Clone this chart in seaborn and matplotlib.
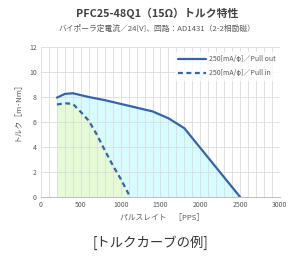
import matplotlib
matplotlib.use("Agg")
import matplotlib.pyplot as plt
import seaborn as sns
import pandas as pd

sns.set_theme(style="white")
plt.rcParams['font.family'] = ['Noto Sans CJK JP', 'DejaVu Sans']

# Data
pull_out_pps = [200, 300, 400, 600, 800, 1000, 1200, 1400, 1600, 1800, 2500]
pull_out_torque = [7.95, 8.25, 8.3, 8.0, 7.75, 7.45, 7.15, 6.85, 6.3, 5.5, 0.0]
pull_in_pps = [200, 300, 400, 500, 600, 700, 800, 900, 1000, 1120]
pull_in_torque = [7.4, 7.5, 7.45, 6.8, 6.1, 5.0, 3.75, 2.55, 1.45, 0.0]

label_out = "250[mA/ϕ]／Pull out"
label_in = "250[mA/ϕ]／Pull in"

title = "PFC25-48Q1（15Ω）トルク特性"
subtitle = "バイポーラ定電流／24[V]、回路：AD1431（2-2相励磁）"
xlabel = "パルスレイト　［PPS］"
ylabel = "トルク［m･Nm］"
caption = "[トルクカーブの例]"

line_color = "#3564a9"
fill_out = "#d6fcff"
fill_in = "#e4fbd6"
grid_color = "#dcdcdc"
text_gray = "#595959"

df_out = pd.DataFrame({"pps": pull_out_pps, "torque": pull_out_torque, "series": label_out})
df_in = pd.DataFrame({"pps": pull_in_pps, "torque": pull_in_torque, "series": label_in})

fig = plt.figure(figsize=(3.02, 2.62), dpi=100)
ax = fig.add_axes([0.1358, 0.248, 0.927 - 0.1358, 0.8206 - 0.248])

ax.fill_between(pull_out_pps, pull_out_torque, 0, color=fill_out, zorder=0.2, linewidth=0)
ax.fill_between(pull_in_pps, pull_in_torque, 0, color=fill_in, zorder=0.3, linewidth=0)

sns.lineplot(data=df_out, x="pps", y="torque", ax=ax, color=line_color, linewidth=1.6,
             label=label_out, zorder=3)
sns.lineplot(data=df_in, x="pps", y="torque", ax=ax, color=line_color, linewidth=1.6,
             linestyle=(0, (2.2, 1.6)), label=label_in, zorder=3)

ax.set_xlim(0, 3000)
ax.set_ylim(0, 12)
ax.set_xticks(range(0, 3001, 500))
ax.set_xticks(range(0, 3001, 100), minor=True)
ax.set_yticks(range(0, 13, 2))
ax.set_axisbelow(True)
ax.grid(True, which="both", axis="x", color=grid_color, linewidth=0.6)
ax.grid(True, which="major", axis="y", color=grid_color, linewidth=0.6)
ax.tick_params(axis="both", which="both", length=0, labelsize=5, labelcolor=text_gray, pad=3)
for s in ["top", "right", "left"]:
    ax.spines[s].set_visible(False)
ax.spines["bottom"].set_color("#bfbfbf")
ax.spines["bottom"].set_linewidth(0.7)
ax.set_xlabel("")
ax.set_ylabel("")

leg = ax.legend(loc="upper right", bbox_to_anchor=(1.01, 0.99), fontsize=5, frameon=True,
                handlelength=4.0, handletextpad=0.4, labelspacing=0.8, borderpad=0.5,
                fancybox=False)
leg.get_frame().set_facecolor("white")
leg.get_frame().set_edgecolor("white")
for t in leg.get_texts():
    t.set_color(text_gray)

fig.text(0.52, 0.948, title, ha="center", va="center", fontsize=7.8, fontweight="bold", color="#404040")
fig.text(0.52, 0.889, subtitle, ha="center", va="center", fontsize=5.6, color=text_gray)
fig.text(0.535, 0.168, xlabel, ha="center", va="center", fontsize=5.6, color=text_gray)
fig.text(0.058, 0.58, ylabel, ha="center", va="center", fontsize=5.6, color=text_gray, rotation=90)
fig.text(0.497, 0.073, caption, ha="center", va="center", fontsize=9.6, color="#333333")

fig.savefig("out.png", dpi=100)
